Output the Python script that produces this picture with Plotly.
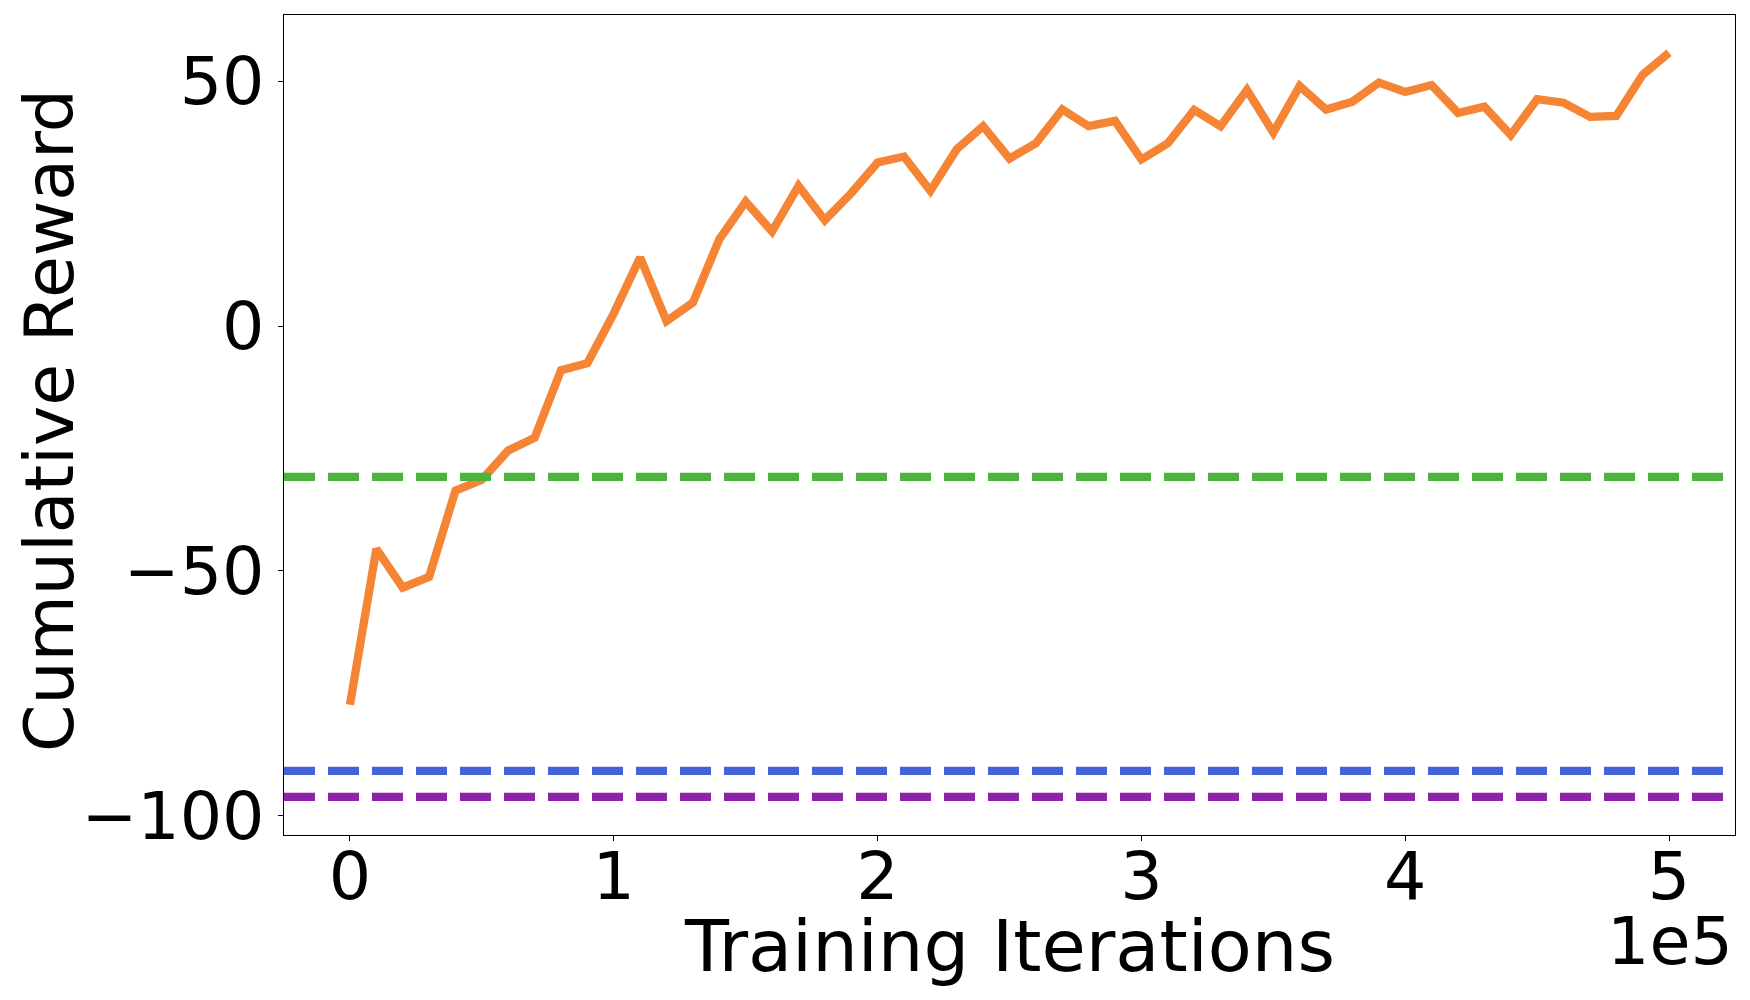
import plotly.graph_objects as go

# ---- data ----
iterations = [0, 10000, 20000, 30000, 40000, 50000, 60000, 70000, 80000, 90000,
              100000, 110000, 120000, 130000, 140000, 150000, 160000, 170000, 180000, 190000,
              200000, 210000, 220000, 230000, 240000, 250000, 260000, 270000, 280000, 290000,
              300000, 310000, 320000, 330000, 340000, 350000, 360000, 370000, 380000, 390000,
              400000, 410000, 420000, 430000, 440000, 450000, 460000, 470000, 480000, 490000,
              500000]
reward = [-77.3, -45.5, -53.4, -51.2, -33.6, -31.4, -25.4, -22.8, -9.0, -7.6,
          2.6, 14.0, 1.0, 4.8, 17.7, 25.4, 19.3, 28.6, 21.6, 27.1,
          33.4, 34.6, 27.6, 36.1, 40.8, 34.2, 37.3, 44.2, 40.8, 41.9,
          34.0, 37.3, 44.1, 40.8, 48.2, 39.5, 49.0, 44.2, 45.8, 49.7,
          47.8, 49.2, 43.5, 44.8, 39.0, 46.3, 45.6, 42.7, 42.9, 51.3,
          55.8]
baseline_names = ["green", "blue", "purple"]
baseline_values = [-30.8, -90.8, -96.1]
baseline_colors = ["#4bb33e", "#4264d8", "#8e22ae"]

x_tick_vals = [0, 100000, 200000, 300000, 400000, 500000]
x_tick_text = ["0", "1", "2", "3", "4", "5"]
y_tick_vals = [-100, -50, 0, 50]

x_title = "Training Iterations"
y_title = "Cumulative Reward"
offset_text = "1e5"

FONT = "DejaVu Sans"
TICK_SIZE = 66.7
XLABEL_SIZE = 72
YLABEL_SIZE = 68

fig = go.Figure()

for name, val, col in zip(baseline_names, baseline_values, baseline_colors):
    fig.add_shape(type="line", xref="paper", yref="y", x0=0, x1=1, y0=val, y1=val,
                  line=dict(color=col, width=8.3, dash="31px,13px"), layer="above")

fig.add_trace(go.Scatter(x=iterations, y=reward, mode="lines",
                         line=dict(color="#f58434", width=8.3), showlegend=False))

fig.update_layout(
    width=1750, height=1000,
    margin=dict(l=284, r=15, t=15, b=165),
    plot_bgcolor="white", paper_bgcolor="white",
    font=dict(family=FONT, color="black"),
    showlegend=False,
)
fig.update_xaxes(
    range=[-25000, 525000], tickvals=x_tick_vals, ticktext=x_tick_text,
    tickfont=dict(size=TICK_SIZE, family=FONT, color="black"),
    ticklabelstandoff=-22,
    showgrid=False, zeroline=False, showline=True, mirror=True,
    linecolor="black", linewidth=1.2, ticks="outside", ticklen=5, tickwidth=1.2,
    tickcolor="black",
)
fig.update_yaxes(
    range=[-103.9, 63.5], tickvals=y_tick_vals,
    tickfont=dict(size=TICK_SIZE, family=FONT, color="black"),
    showgrid=False, zeroline=False, showline=True, mirror=True,
    linecolor="black", linewidth=1.2, ticks="outside", ticklen=5, tickwidth=1.2,
    tickcolor="black",
)
# axis titles
fig.add_annotation(text=x_title, xref="paper", yref="paper", x=0.5, y=-0.135,
                   xanchor="center", yanchor="middle", showarrow=False,
                   font=dict(size=XLABEL_SIZE, family=FONT, color="black"))
fig.add_annotation(text=y_title, xref="paper", yref="paper", x=-0.162, y=0.506,
                   xanchor="center", yanchor="middle", showarrow=False, textangle=-90,
                   font=dict(size=YLABEL_SIZE, family=FONT, color="black"))
fig.add_annotation(text=offset_text, xref="paper", yref="paper", x=1.0, y=-0.129,
                   xanchor="right", yanchor="middle", showarrow=False,
                   font=dict(size=TICK_SIZE, family=FONT, color="black"))

fig.write_html("out.html", config={"displayModeBar": False},
               post_script="document.body.style.margin='0';")
